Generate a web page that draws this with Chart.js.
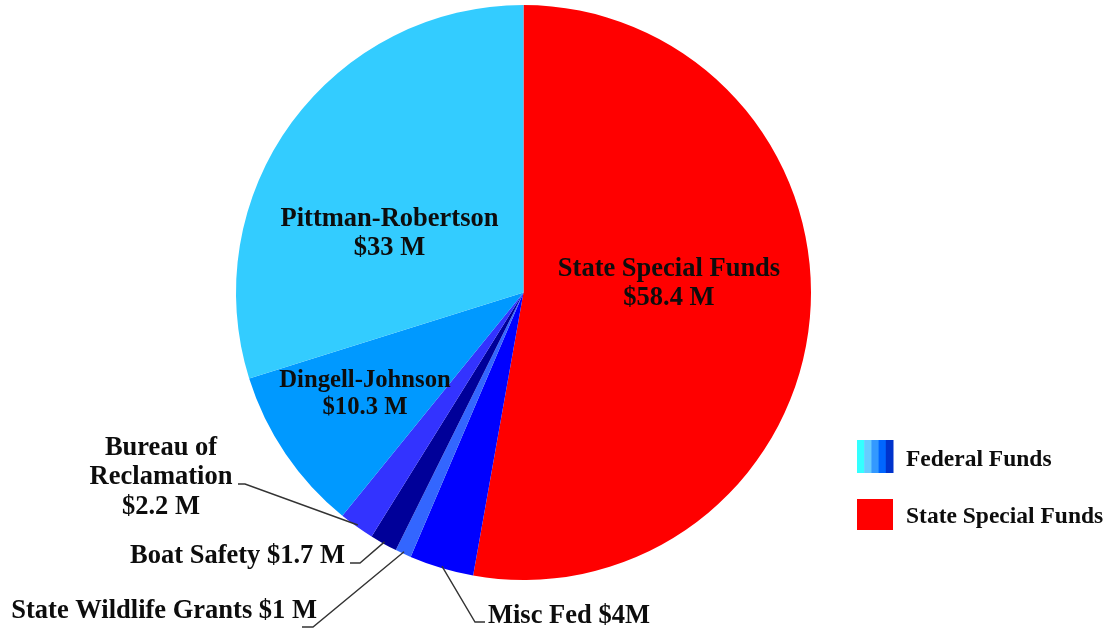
<!DOCTYPE html>
<html>
<head>
<meta charset="utf-8">
<title>Funding sources</title>
<script src="https://cdn.jsdelivr.net/npm/chart.js@4/dist/chart.umd.min.js"></script>
<style>
    html, body { margin: 0; padding: 0; background: #ffffff; }
    #wrap { width: 1107px; height: 632px; }
</style>
</head>
<body>
<div id="wrap"><canvas id="pie-chart" width="1107" height="632"></canvas></div>
<script>
// data (millions of dollars)
var categories = ["State Special Funds", "Misc Fed", "State Wildlife Grants", "Boat Safety",
    "Bureau of Reclamation", "Dingell-Johnson", "Pittman-Robertson"];
var amounts = [58.4, 4, 1, 1.7, 2.2, 10.3, 33];
var amountText = ["$58.4 M", "$4M", "$1 M", "$1.7 M", "$2.2 M", "$10.3 M", "$33 M"];
var sliceColors = ["#ff0000", "#0000ff", "#3366ff", "#000099", "#3333ff", "#0099ff", "#33ccff"];

var legendNames = ["Federal Funds", "State Special Funds"];
var federalStripes = ["#33ffff", "#66ccff", "#3399ff", "#0066ff", "#0033cc"];

var FAMILY = "'Liberation Serif', 'Times New Roman', serif";

// where each label sits, relative to the pie centre (px)
// inside: text centred at dx, first baseline dy
// outside: text anchor + leader elbow and end point
var labelLayout = [
    { lines: ["State Special Funds", amountText[0]], align: "center", dx: 145.5, dy: -16.5 },
    { lines: ["Misc Fed " + amountText[1]], align: "left", dx: -35.5, dy: 330.5,
        elbow: [-48.5, 329.5], end: [-38.5, 329.5] },
    { lines: ["State Wildlife Grants " + amountText[2]], align: "right", dx: -206.5, dy: 325.5,
        elbow: [-210.5, 334.5], end: [-221.5, 334.5] },
    { lines: ["Boat Safety " + amountText[3]], align: "right", dx: -178.5, dy: 270.5,
        elbow: [-163.5, 270.5], end: [-173.5, 270.5] },
    { lines: ["Bureau of", "Reclamation", amountText[4]], align: "center", dx: -362.5, dy: 162.5,
        elbow: [-278.5, 191.5], end: [-285.5, 191.5] },
    { lines: ["Dingell-Johnson", amountText[5]], align: "center", dx: -158.5, dy: 94.5,
        size: 24.7, lead: 27 },
    { lines: ["Pittman-Robertson", amountText[6]], align: "center", dx: -134, dy: -67 }
];

// labels and leader lines
var sliceLabels = {
    id: "sliceLabels",
    afterDatasetsDraw: function (chart) {
        var ctx = chart.ctx;
        var meta = chart.getDatasetMeta(0);
        ctx.save();
        ctx.fillStyle = "#0d0d0d";
        ctx.textBaseline = "alphabetic";
        meta.data.forEach(function (arc, i) {
            var l = labelLayout[i];
            var cx = arc.x, cy = arc.y;
            if (l.elbow) {
                var mid = (arc.startAngle + arc.endAngle) / 2;
                var r = arc.outerRadius - 2;
                ctx.beginPath();
                ctx.strokeStyle = "#333333";
                ctx.lineWidth = 1.4;
                ctx.moveTo(cx + Math.cos(mid) * r, cy + Math.sin(mid) * r);
                ctx.lineTo(cx + l.elbow[0], cy + l.elbow[1]);
                ctx.lineTo(cx + l.end[0], cy + l.end[1]);
                ctx.stroke();
            }
            ctx.font = "bold " + (l.size || 26.5) + "px " + FAMILY;
            ctx.textAlign = l.align;
            l.lines.forEach(function (line, k) {
                ctx.fillText(line, cx + l.dx, cy + l.dy + k * (l.lead || 29.3));
            });
        });
        ctx.restore();
    }
};

// legend on the right
var sideLegend = {
    id: "sideLegend",
    afterDraw: function (chart) {
        var ctx = chart.ctx;
        var x = 857, w = 36, h = 33;
        var rows = [440, 499];
        ctx.save();
        // federal swatch is striped with the federal blues
        var sw = w / federalStripes.length;
        federalStripes.forEach(function (c, k) {
            ctx.fillStyle = c;
            ctx.fillRect(x + k * sw, rows[0], sw + 0.5, h);
        });
        ctx.fillStyle = sliceColors[0];
        ctx.fillRect(x, rows[1], w, h - 2);
        ctx.font = "bold 23.5px " + FAMILY;
        ctx.fillStyle = "#0d0d0d";
        ctx.textAlign = "left";
        ctx.textBaseline = "alphabetic";
        ctx.fillText(legendNames[0], 906, 466);
        ctx.fillText(legendNames[1], 906, 523);
        ctx.restore();
    }
};

new Chart(document.getElementById("pie-chart"), {
    type: 'pie',
    data: {
        labels: categories,
        datasets: [
            {
                data: amounts,
                backgroundColor: sliceColors,
                borderWidth: 0
            }
        ]
    },
    options: {
        responsive: false,
        animation: false,
        layout: {
            padding: { left: 236, right: 296, top: 5, bottom: 52 }
        },
        plugins: {
            legend: { display: false },
            tooltip: { enabled: false }
        }
    },
    plugins: [sliceLabels, sideLegend]
});
</script>
</body>
</html>
